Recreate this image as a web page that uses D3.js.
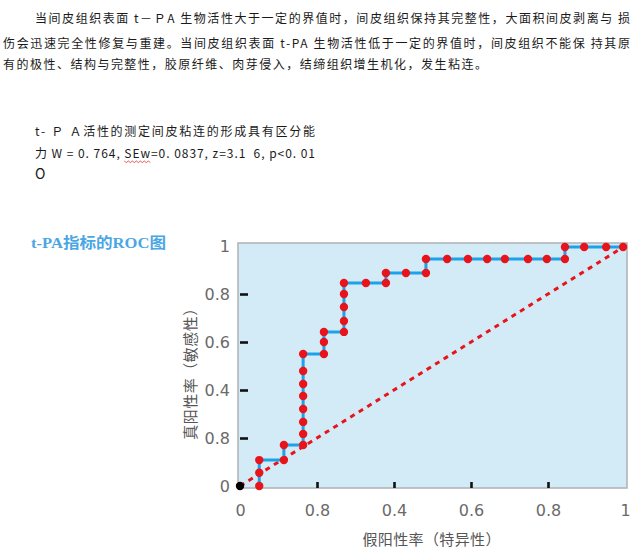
<!DOCTYPE html>
<html><head><meta charset="utf-8">
<script src="https://cdn.jsdelivr.net/npm/d3@7"></script>
<style>
html,body{margin:0;padding:0;background:#fff;}
svg{display:block;}
text{white-space:pre;}
</style></head>
<body>
<svg id="c" width="637" height="549"></svg>
<script>
// ---- data ----
const paraLines = [
  "当间皮组织表面 t－ＰA 生物活性大于一定的界值时，间皮组织保持其完整性，大面积间皮剥离与 损",
  "伤会迅速完全性修复与重建。当间皮组织表面 t-PA 生物活性低于一定的界值时，间皮组织不能保 持其原",
  "有的极性、结构与完整性，胶原纤维、肉芽侵入，结缔组织增生机化，发生粘连。"
];
const noteLines = [
  "t- Ｐ Ａ活性的测定间皮粘连的形成具有区分能",
  "力 W = 0. 764, SEw=0. 0837, z=3.1  6, p<0. 01",
  "O"
];
const chartTitle = "t-PA指标的ROC图";
const xTitle = "假阳性率（特异性）";
const yTitle = "真阳性率（敏感性）";
const tickValues = [0, 0.2, 0.4, 0.6, 0.8, 1];
const tickLabels = ["0", "0.8", "0.4", "0.6", "0.8", "1"];
// ROC points (false positive rate, true positive rate); first is the origin marker
const fpr = [0, 0.05, 0.05, 0.05, 0.114, 0.114, 0.164, 0.164, 0.164, 0.164, 0.164, 0.164, 0.164, 0.164,
  0.218, 0.218, 0.218, 0.27, 0.27, 0.27, 0.27, 0.27, 0.327, 0.379, 0.379, 0.431, 0.483, 0.483,
  0.538, 0.592, 0.642, 0.688, 0.748, 0.797, 0.844, 0.844, 0.894, 0.951, 0.995];
const tpr = [0, 0, 0.055, 0.108, 0.108, 0.171, 0.171, 0.217, 0.267, 0.321, 0.375, 0.425, 0.479, 0.55,
  0.55, 0.6, 0.642, 0.642, 0.6875, 0.746, 0.8, 0.846, 0.846, 0.846, 0.8875, 0.8875, 0.8875, 0.946,
  0.946, 0.946, 0.946, 0.946, 0.946, 0.946, 0.946, 0.996, 0.996, 0.996, 0.996];
const diag = [[0, 0], [1, 1]];

// ---- drawing ----
const svg = d3.select("#c");
const cjk = "'Noto Sans CJK SC','Noto Sans',sans-serif";

// paragraph text
const para = [
  {x: 35, y: 17, w: 595},
  {x: 3, y: 42, w: 627},
  {x: 3, y: 63, w: 484}
];
svg.append("g").selectAll("text").data(paraLines).join("text")
  .attr("x", (d, i) => para[i].x).attr("y", (d, i) => para[i].y)
  .attr("dominant-baseline", "central")
  .attr("textLength", (d, i) => para[i].w).attr("lengthAdjust", "spacing")
  .style("font-family", cjk).style("font-size", "12px").attr("fill", "#1a1a1a")
  .text(d => d);

const note = [
  {x: 35, y: 130, w: 280, fs: 12},
  {x: 35, y: 152, w: 280, fs: 12},
  {x: 35, y: 173, w: null, fs: 14}
];
const noteT = svg.append("g").selectAll("text").data(noteLines).join("text")
  .attr("x", (d, i) => note[i].x).attr("y", (d, i) => note[i].y)
  .attr("dominant-baseline", "central")
  .each(function(d, i){ if (note[i].w) d3.select(this).attr("textLength", note[i].w).attr("lengthAdjust", "spacing"); })
  .style("font-family", cjk).style("font-size", (d, i) => note[i].fs + "px").attr("fill", "#1a1a1a")
  .text(d => d);

// red wavy spell-check underline under "SEw"
(function(){
  const node = noteT.nodes()[1];
  const s = noteLines[1].indexOf("SEw");
  try {
    const a = node.getExtentOfChar(s), b = node.getExtentOfChar(s + 2);
    const x0 = a.x, x1 = b.x + b.width, yy = a.y + a.height + 0.5;
    let p = `M${x0},${yy}`;
    for (let x = x0, k = 0; x < x1; x += 2, k++) p += `L${x + 2},${yy + (k % 2 ? 0 : 1.6)}`;
    svg.append("path").attr("d", p).attr("fill", "none").attr("stroke", "#e23030").attr("stroke-width", 0.8);
  } catch (e) {}
})();

// chart
const x = d3.scaleLinear().domain([0, 1]).range([240, 625]);
const y = d3.scaleLinear().domain([0, 1]).range([486, 246]);

svg.append("text").attr("x", 31).attr("y", 248)
  .attr("textLength", 135).attr("lengthAdjust", "spacingAndGlyphs")
  .style("font-family", "'Liberation Serif','DejaVu Serif','Noto Sans CJK SC',serif")
  .style("font-size", "15px").style("font-weight", "bold").attr("fill", "#4aa6e4")
  .text(chartTitle);

svg.append("rect")
  .attr("x", x(0) - 2).attr("y", y(1) - 3)
  .attr("width", x(1) - x(0) + 4).attr("height", y(0) - y(1) + 5)
  .attr("fill", "#d3eaf7").attr("stroke", "#b2b6b8").attr("stroke-width", 1.6);

const fmt = (d) => tickLabels[tickValues.indexOf(d)];
const yAxis = svg.append("g").attr("transform", `translate(${x(0)},0)`)
  .call(d3.axisLeft(y).tickValues(tickValues).tickFormat(fmt).tickSize(-8).tickPadding(10));
const xAxis = svg.append("g").attr("transform", `translate(0,${y(0)})`)
  .call(d3.axisBottom(x).tickValues(tickValues).tickFormat(fmt).tickSize(-6).tickPadding(19));
[yAxis, xAxis].forEach(g => {
  g.select(".domain").remove();
  g.selectAll(".tick line").attr("stroke", "#111").attr("stroke-width", 2.6)
    .filter(d => d === 0 || d === 1).remove();
  g.selectAll(".tick text").attr("fill", "#6a6a6a")
    .style("font-family", "'DejaVu Sans',sans-serif").style("font-size", "16px");
});
xAxis.selectAll(".tick line").attr("transform", "translate(0,2)");

// diagonal reference line
svg.append("path").datum(diag)
  .attr("d", d3.line().x(d => x(d[0])).y(d => y(d[1])))
  .attr("fill", "none").attr("stroke", "#e8141c").attr("stroke-width", 3)
  .attr("stroke-dasharray", "5,5");

// ROC step line (starts at first measured point)
const pts = fpr.map((f, i) => [f, tpr[i]]);
svg.append("path").datum(pts.slice(1))
  .attr("d", d3.line().x(d => x(d[0])).y(d => y(d[1])))
  .attr("fill", "none").attr("stroke", "#1da1e8").attr("stroke-width", 3);

svg.append("g").selectAll("circle").data(pts).join("circle")
  .attr("cx", d => x(d[0])).attr("cy", d => y(d[1])).attr("r", 4.2)
  .attr("fill", (d, i) => i === 0 ? "#000" : "#e8141c");

// axis titles
svg.append("text").attr("x", (x(0) + x(1)) / 2 - 1).attr("y", 538)
  .attr("text-anchor", "middle").attr("dominant-baseline", "central")
  .attr("textLength", 138).attr("lengthAdjust", "spacing")
  .style("font-family", cjk).style("font-size", "15px").attr("fill", "#555")
  .text(xTitle);
svg.append("text").attr("transform", `translate(189,370) rotate(-90)`)
  .attr("text-anchor", "middle").attr("dominant-baseline", "central")
  .style("font-family", cjk).style("font-size", "15px").attr("fill", "#555")
  .attr("letter-spacing", "0.5px")
  .text(yTitle);
</script>
</body></html>
